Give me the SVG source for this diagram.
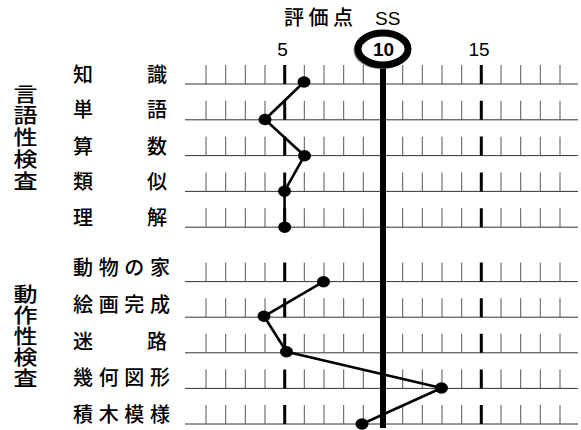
<svg xmlns="http://www.w3.org/2000/svg" width="581" height="430" viewBox="0 0 581 430">
<style>
.jp{font-family:"Noto Sans CJK JP","Noto Sans CJK SC",sans-serif;font-size:20px;font-weight:500;fill:#000}
.grp{font-family:"Noto Sans CJK JP","Noto Sans CJK SC",sans-serif;font-size:20px;font-weight:500;fill:#000;writing-mode:vertical-rl}
.num{font-family:"Liberation Sans",Arial,sans-serif;font-size:19px;fill:#000}
.thin{stroke:#555;stroke-width:1;fill:none}
.thick{stroke:#000;stroke-width:3;fill:none}
.base{stroke:#333;stroke-width:1;fill:none}
.conn{stroke:#000;stroke-width:2.6;fill:none;stroke-linejoin:round}
.dot{fill:#000}
</style>
<defs>
<g id="axis">
<path class="base" d="M185 0H578"/>
<path class="thin" d="M206 -19V0M225.7 -19V0M245.3 -19V0M265 -19V0M304.3 -19V0M324 -19V0M343.7 -19V0M363.3 -19V0M402.7 -19V0M422.3 -19V0M442 -19V0M461.7 -19V0M501 -19V0M520.7 -19V0M540.3 -19V0M560 -19V0"/>
<path class="thick" d="M284.7 -19V0M481.3 -19V0"/>
</g>
</defs>
<rect width="581" height="430" fill="#fff"/>

<g id="header">
<text class="jp" x="284" y="25" font-size="21" textLength="69" lengthAdjust="spacing">評価点</text>
<text class="num" x="375" y="25" font-size="18">SS</text>
<text class="num" x="282.5" y="55.5" text-anchor="middle">5</text>
<text class="num" x="479" y="55.5" text-anchor="middle">15</text>
</g>

<g id="group-verbal">
<text class="grp" transform="translate(25.5,0) scale(1.2,1)" x="0" y="84" letter-spacing="1.8">言語性検査</text>
</g>
<g id="group-performance">
<text class="grp" transform="translate(25.5,0) scale(1.2,1)" x="0" y="284" letter-spacing="1.2">動作性検査</text>
</g>

<g id="row-chishiki"><use href="#axis" transform="translate(0,84)"/><text class="jp" x="73" y="82">知</text><text class="jp" x="147" y="82">識</text></g>
<g id="row-tango"><use href="#axis" transform="translate(0,119.8)"/><text class="jp" x="73" y="117">単</text><text class="jp" x="147" y="117">語</text></g>
<g id="row-sansu"><use href="#axis" transform="translate(0,155.6)"/><text class="jp" x="73" y="153.5">算</text><text class="jp" x="147" y="153.5">数</text></g>
<g id="row-rujii"><use href="#axis" transform="translate(0,191.4)"/><text class="jp" x="73" y="188.5">類</text><text class="jp" x="147" y="188.5">似</text></g>
<g id="row-rikai"><use href="#axis" transform="translate(0,227.2)"/><text class="jp" x="73" y="225">理</text><text class="jp" x="147" y="225">解</text></g>

<g id="row-doubutsu"><use href="#axis" transform="translate(0,281.6)"/><text class="jp" x="73" y="275" textLength="97" lengthAdjust="spacing">動物の家</text></g>
<g id="row-kaiga"><use href="#axis" transform="translate(0,317.2)"/><text class="jp" x="73" y="311.5" textLength="97" lengthAdjust="spacing">絵画完成</text></g>
<g id="row-meiro"><use href="#axis" transform="translate(0,352.8)"/><text class="jp" x="73" y="348.5">迷</text><text class="jp" x="147" y="348.5">路</text></g>
<g id="row-kika"><use href="#axis" transform="translate(0,388.4)"/><text class="jp" x="73" y="385" textLength="97" lengthAdjust="spacing">幾何図形</text></g>
<g id="row-tsumiki"><use href="#axis" transform="translate(0,424)"/><text class="jp" x="73" y="421.7" textLength="97" lengthAdjust="spacing">積木模様</text></g>

<g id="mean-marker">
<line x1="383" y1="60" x2="383" y2="428" stroke="#000" stroke-width="6"/>
<ellipse cx="381" cy="50" rx="24.5" ry="16" fill="none" stroke="#888" stroke-width="6"/>
<ellipse cx="383" cy="49" rx="25" ry="16" fill="#fff" stroke="#000" stroke-width="7"/>
<text class="num" x="383.5" y="56" text-anchor="middle" font-size="22" font-weight="bold">10</text>
</g>

<g id="connectors">
<polyline class="conn" points="304,82 265,119.5 304.5,155.7 284.5,191.2 284.7,227.3"/>
<polyline class="conn" points="323.5,281.7 264,316.3 286.5,351.7 441.5,388 362,424"/>
</g>

<g id="dot-chishiki"><ellipse class="dot" cx="304" cy="82" rx="6.5" ry="5.7"/></g>
<g id="dot-tango"><ellipse class="dot" cx="265" cy="119.5" rx="6.5" ry="5.7"/></g>
<g id="dot-sansu"><ellipse class="dot" cx="304.5" cy="155.7" rx="6.5" ry="5.7"/></g>
<g id="dot-rujii"><ellipse class="dot" cx="284.5" cy="191.2" rx="6.5" ry="5.7"/></g>
<g id="dot-rikai"><ellipse class="dot" cx="284.7" cy="227.3" rx="6.5" ry="5.7"/></g>
<g id="dot-doubutsu"><ellipse class="dot" cx="323.5" cy="281.7" rx="6.5" ry="5.7"/></g>
<g id="dot-kaiga"><ellipse class="dot" cx="264" cy="316.3" rx="6.5" ry="5.7"/></g>
<g id="dot-meiro"><ellipse class="dot" cx="286.5" cy="351.7" rx="6.5" ry="5.7"/></g>
<g id="dot-kika"><ellipse class="dot" cx="441.5" cy="388" rx="6.5" ry="5.7"/></g>
<g id="dot-tsumiki"><ellipse class="dot" cx="362" cy="424" rx="6.5" ry="5.7"/></g>
</svg>
